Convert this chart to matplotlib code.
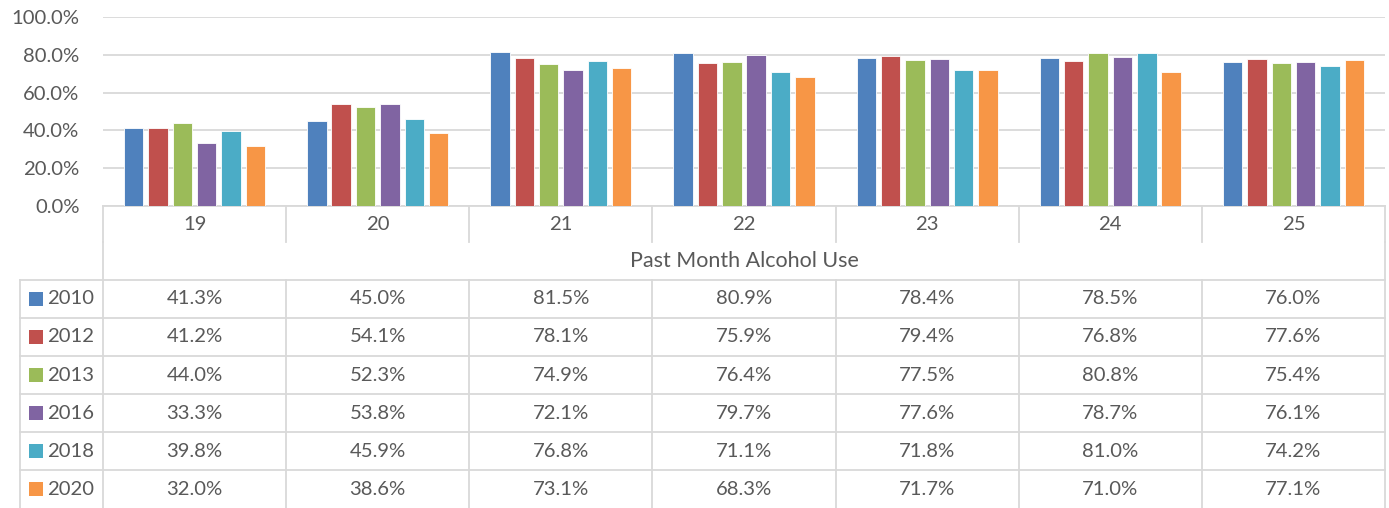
import matplotlib
matplotlib.use("Agg")
import matplotlib.pyplot as plt
from matplotlib.lines import Line2D
from matplotlib.patches import Rectangle
import numpy as np

ages = ["19", "20", "21", "22", "23", "24", "25"]
years = ["2010", "2012", "2013", "2016", "2018", "2020"]
v2010 = [41.3, 45.0, 81.5, 80.9, 78.4, 78.5, 76.0]
v2012 = [41.2, 54.1, 78.1, 75.9, 79.4, 76.8, 77.6]
v2013 = [44.0, 52.3, 74.9, 76.4, 77.5, 80.8, 75.4]
v2016 = [33.3, 53.8, 72.1, 79.7, 77.6, 78.7, 76.1]
v2018 = [39.8, 45.9, 76.8, 71.1, 71.8, 81.0, 74.2]
v2020 = [32.0, 38.6, 73.1, 68.3, 71.7, 71.0, 77.1]
series = [v2010, v2012, v2013, v2016, v2018, v2020]
colors = ["#4F81BD", "#C0504D", "#9BBB59", "#8064A2", "#4BACC6", "#F79646"]
table_title = "Past Month Alcohol Use"
yticks = [0, 20, 40, 60, 80, 100]

plt.rcParams['font.family'] = ['Lato', 'DejaVu Sans']
txt = "#595959"
grid = "#D9D9D9"
fs = 14.6

W, H = 1389, 508
fig = plt.figure(figsize=(W / 100, H / 100), dpi=100)
L, R, T, B = 103, 1385, 17, 206
ax = fig.add_axes([L / W, 1 - B / H, (R - L) / W, (B - T) / H])

n = len(series)
pitch = 0.133
bw = 0.106
x = np.arange(len(ages))
for i, (vals, c) in enumerate(zip(series, colors)):
    off = (i - (n - 1) / 2) * pitch
    ax.bar(x + off, [v / 100 for v in vals], width=bw, color=c,
           edgecolor="white", linewidth=0.6, zorder=3)

ax.set_xlim(-0.5, len(ages) - 0.5)
ax.set_ylim(0, 1.0)
ax.set_yticks([t / 100 for t in yticks])
ax.set_yticklabels([f"{t:.1f}%" for t in yticks], color=txt, fontsize=fs)
ax.tick_params(axis="y", length=0, pad=17)
ax.set_xticks([])
for s in ["left", "right", "top"]:
    ax.spines[s].set_visible(False)
ax.spines["bottom"].set_color(grid)
ax.spines["bottom"].set_linewidth(1.3)
ax.yaxis.grid(True, color=grid, linewidth=1.3, zorder=0)
ax.set_axisbelow(True)

ph = B - T
def fy(py):
    return (B - py) / ph

cw = R - L
def fx(px):
    return -0.5 + (px - L) / cw * len(ages)

trans = ax.get_xaxis_transform()
lkw = dict(color=grid, linewidth=1.3, transform=trans, clip_on=False)

# category row
for k in range(len(ages) + 1):
    xb = k - 0.5
    ax.add_line(Line2D([xb, xb], [fy(B), fy(242)], **lkw))
for k, a in enumerate(ages):
    ax.text(k, fy(224), a, ha="center", va="center", color=txt, fontsize=fs,
            transform=trans, clip_on=False)
# left/right of title row
ax.add_line(Line2D([-0.5, -0.5], [fy(242), fy(280)], **lkw))
ax.add_line(Line2D([6.5, 6.5], [fy(242), fy(280)], **lkw))
ax.text(3, fy(261), table_title, ha="center", va="center", color=txt,
        fontsize=15.5, transform=trans, clip_on=False)

# data rows
row_tops = [280, 318, 356, 394, 432, 470, 508]
xl = fx(20)
for yt in row_tops[:-1]:
    ax.add_line(Line2D([xl, 6.5], [fy(yt), fy(yt)], **lkw))
for xb in [xl] + [k - 0.5 for k in range(len(ages) + 1)]:
    ax.add_line(Line2D([xb, xb], [fy(280), fy(510)], **lkw))

sq = 14 / cw * len(ages)
for i, (yr, vals, c) in enumerate(zip(years, series, colors)):
    yc = (row_tops[i] + row_tops[i + 1]) / 2
    ax.add_patch(Rectangle((fx(29), fy(yc + 7)), sq, 14 / ph, facecolor=c,
                           edgecolor="none", transform=trans, clip_on=False))
    ax.text(fx(47), fy(yc), yr, ha="left", va="center", color=txt,
            fontsize=fs, transform=trans, clip_on=False)
    for k, v in enumerate(vals):
        ax.text(k, fy(yc), f"{v:.1f}%", ha="center", va="center", color=txt,
                fontsize=fs, transform=trans, clip_on=False)

fig.savefig("out.png", dpi=100)
